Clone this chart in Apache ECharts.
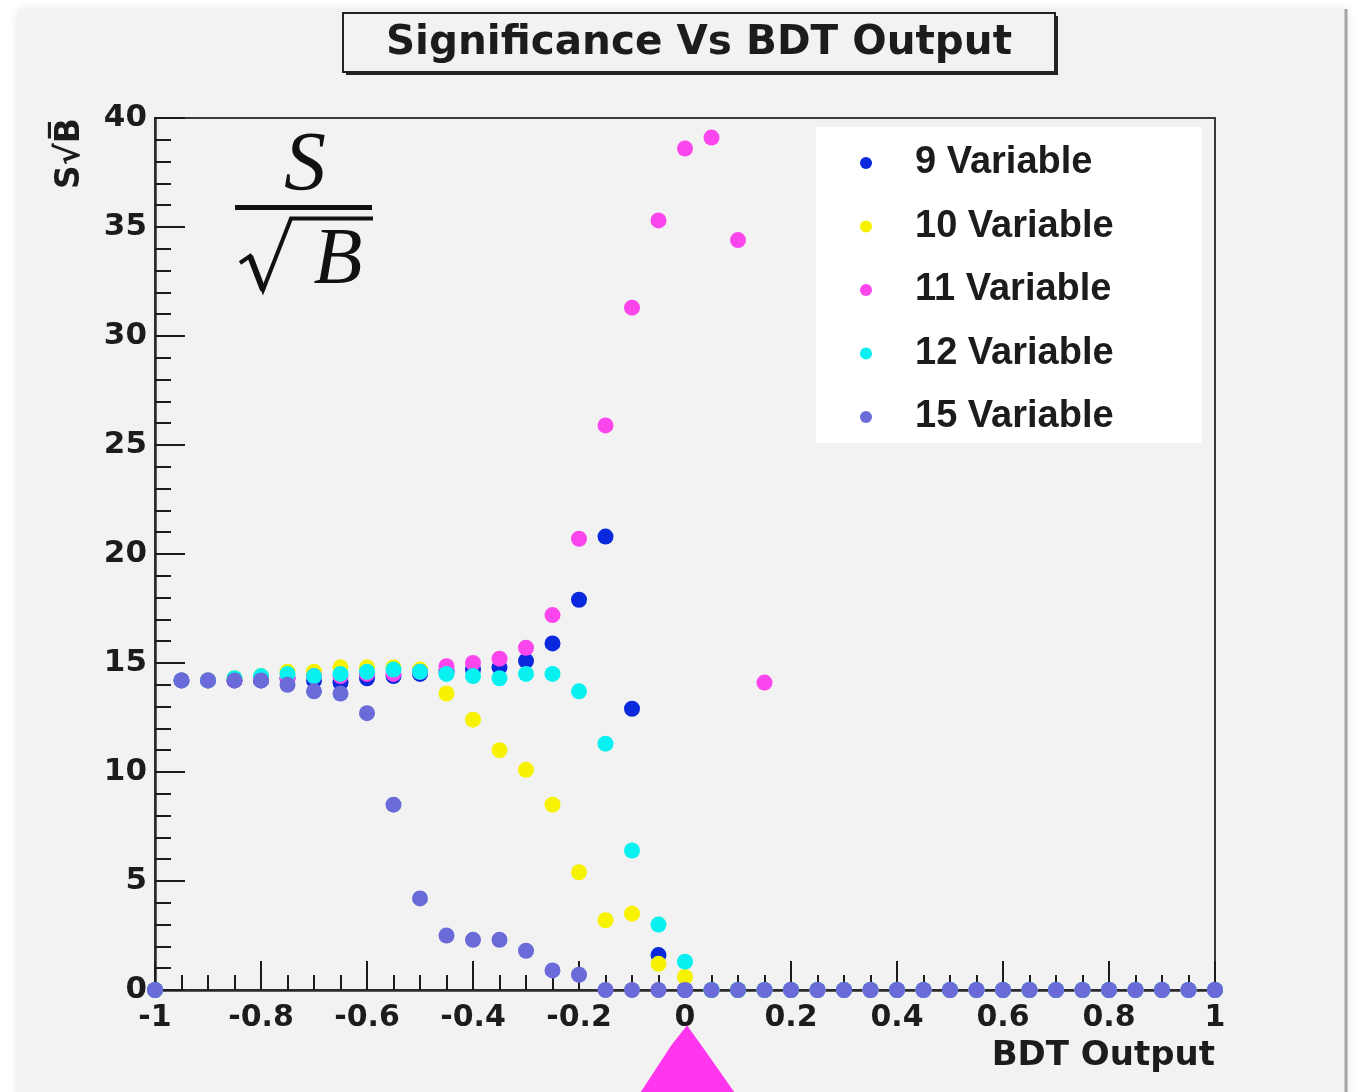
<!DOCTYPE html>
<html>
<head>
<meta charset="utf-8">
<title>Significance Vs BDT Output</title>
<script src="https://cdn.jsdelivr.net/npm/echarts@6/dist/echarts.min.js"></script>
<style>
  html, body { margin: 0; padding: 0; background: #ffffff; }
  #chart { width: 1359px; height: 1092px; }
</style>
</head>
<body>
<div id="chart"></div>
<script>
// BDT output cut values (x) and the S/sqrt(B) significance for each variable set
const bdtOutput = [
  -1, -0.95, -0.9, -0.85, -0.8, -0.75, -0.7, -0.65, -0.6, -0.55,
  -0.5, -0.45, -0.4, -0.35, -0.3, -0.25, -0.2, -0.15, -0.1, -0.05,
  0, 0.05, 0.1, 0.15, 0.2, 0.25, 0.3, 0.35, 0.4, 0.45,
  0.5, 0.55, 0.6, 0.65, 0.7, 0.75, 0.8, 0.85, 0.9, 0.95, 1
];

const var9 = [
  0, 14.2, 14.2, 14.2, 14.2, 14.3, 14.2, 14.1, 14.3, 14.4,
  14.5, 14.6, 14.7, 14.8, 15.1, 15.9, 17.9, 20.8, 12.9, 1.6,
  0, 0, 0, 0, 0, 0, 0, 0, 0, 0,
  0, 0, 0, 0, 0, 0, 0, 0, 0, 0, 0
];

const var10 = [
  0, 14.2, 14.2, 14.3, 14.4, 14.6, 14.6, 14.8, 14.8, 14.8,
  14.7, 13.6, 12.4, 11.0, 10.1, 8.5, 5.4, 3.2, 3.5, 1.2,
  0.6, 0, 0, 0, 0, 0, 0, 0, 0, 0,
  0, 0, 0, 0, 0, 0, 0, 0, 0, 0, 0
];

const var11 = [
  0, 14.2, 14.2, 14.2, 14.3, 14.3, 14.4, 14.4, 14.5, 14.5,
  14.6, 14.85, 15.0, 15.2, 15.7, 17.2, 20.7, 25.9, 31.3, 35.3,
  38.6, 39.1, 34.4, 14.1, 0, 0, 0, 0, 0, 0,
  0, 0, 0, 0, 0, 0, 0, 0, 0, 0, 0
];

const var12 = [
  0, 14.2, 14.2, 14.3, 14.4, 14.5, 14.4, 14.5, 14.6, 14.7,
  14.6, 14.5, 14.4, 14.3, 14.5, 14.5, 13.7, 11.3, 6.4, 3.0,
  1.3, 0, 0, 0, 0, 0, 0, 0, 0, 0,
  0, 0, 0, 0, 0, 0, 0, 0, 0, 0, 0
];

const var15 = [
  0, 14.2, 14.2, 14.2, 14.2, 14.0, 13.7, 13.6, 12.7, 8.5,
  4.2, 2.5, 2.3, 2.3, 1.8, 0.9, 0.7, 0, 0, 0,
  0, 0, 0, 0, 0, 0, 0, 0, 0, 0,
  0, 0, 0, 0, 0, 0, 0, 0, 0, 0, 0
];

const seriesNames = ['9 Variable', '10 Variable', '11 Variable', '12 Variable', '15 Variable'];
const seriesValues = [var9, var10, var11, var12, var15];
const seriesColors = ['#0a28dc', '#f6f200', '#fb46ee', '#08f0f0', '#6a6ad8'];

const yTicks = [0, 5, 10, 15, 20, 25, 30, 35, 40];
const xTicks = [-1, -0.8, -0.6, -0.4, -0.2, 0, 0.2, 0.4, 0.6, 0.8, 1];

const AXIS_FONT = '"DejaVu Sans", sans-serif';
const LEGEND_FONT = '"Liberation Sans", Arial, sans-serif';
const MATH_FONT = '"Liberation Serif", "DejaVu Serif", serif';
const INK = '#1c1c1c';

const chart = echarts.init(document.getElementById('chart'), null, { renderer: 'canvas' });

const series = seriesNames.map((name, k) => ({
  name: name,
  type: 'scatter',
  symbol: 'circle',
  symbolSize: 16,
  itemStyle: { color: seriesColors[k], opacity: 1 },
  emphasis: { disabled: true },
  data: bdtOutput.map((x, i) => [x, seriesValues[k][i]])
}));

chart.setOption({
  backgroundColor: '#ffffff',
  animation: false,
  grid: {
    left: 155, top: 118, width: 1060, height: 872,
    show: true, borderColor: '#3a3a3a', borderWidth: 2,
    backgroundColor: 'transparent'
  },
  legend: {
    orient: 'vertical',
    left: 816, top: 127,
    padding: [17, 88, 7, 44],
    backgroundColor: '#ffffff',
    itemWidth: 12, itemHeight: 12,
    itemGap: 25.5,
    icon: 'circle',
    selectedMode: false,
    data: seriesNames,
    textStyle: {
      fontFamily: LEGEND_FONT, fontWeight: 'bold', fontSize: 38,
      lineHeight: 38, color: INK, padding: [0, 0, 0, 38]
    }
  },
  xAxis: {
    type: 'value',
    min: xTicks[0], max: xTicks[xTicks.length - 1], interval: 0.2,
    splitLine: { show: false },
    axisLine: { show: true, onZero: false, lineStyle: { color: '#2a2a2a', width: 2.5 } },
    axisTick: { show: true, inside: true, length: 29, lineStyle: { color: INK, width: 2 } },
    minorTick: { show: true, splitNumber: 4, length: 15, lineStyle: { color: INK, width: 2 } },
    axisLabel: {
      margin: 13,
      fontFamily: AXIS_FONT, fontWeight: 'bold', fontSize: 30, color: INK,
      formatter: v => String(+v.toFixed(2))
    }
  },
  yAxis: {
    type: 'value',
    min: yTicks[0], max: yTicks[yTicks.length - 1], interval: 5,
    splitLine: { show: false },
    axisLine: { show: true, onZero: false, lineStyle: { color: '#2a2a2a', width: 2.5 } },
    axisTick: { show: true, inside: true, length: 30, lineStyle: { color: INK, width: 2 } },
    minorTick: { show: true, splitNumber: 5, length: 16, lineStyle: { color: INK, width: 2 } },
    axisLabel: {
      margin: 8,
      fontFamily: AXIS_FONT, fontWeight: 'bold', fontSize: 31, color: INK
    }
  },
  graphic: [
    // canvas panel behind everything
    {
      type: 'rect', z: -10, silent: true,
      shape: { x: 18, y: 10, width: 1328, height: 1100 },
      style: { fill: '#f2f2f2', shadowBlur: 10, shadowColor: 'rgba(0,0,0,0.12)' }
    },
    {
      type: 'line', z: -9, silent: true,
      shape: { x1: 1346, y1: 9, x2: 1346, y2: 1092 },
      style: { stroke: '#a3a3a3', lineWidth: 3 }
    },
    // title box with drop shadow
    {
      type: 'rect', z: 5, silent: true,
      shape: { x: 346, y: 16, width: 712, height: 59 },
      style: { fill: '#222222' }
    },
    {
      type: 'rect', z: 5, silent: true,
      shape: { x: 343, y: 13, width: 712, height: 59 },
      style: { fill: '#f2f2f2', stroke: '#222222', lineWidth: 2 }
    },
    {
      type: 'text', z: 6, silent: true,
      x: 699, y: 43,
      style: {
        text: 'Significance Vs BDT Output',
        font: 'bold 40.5px "DejaVu Sans", sans-serif',
        fill: INK, align: 'center', verticalAlign: 'middle'
      }
    },
    // axis titles
    {
      type: 'text', z: 6, silent: true,
      x: 1215, y: 1056,
      style: {
        text: 'BDT Output',
        font: 'bold 34px "DejaVu Sans", sans-serif',
        fill: INK, align: 'right', verticalAlign: 'middle'
      }
    },
    {
      type: 'text', z: 6, silent: true,
      x: 70, y: 118, rotation: Math.PI / 2,
      style: {
        text: 'S\u221AB\u0305',
        font: 'bold 33px "DejaVu Sans", sans-serif',
        fill: INK, align: 'right', verticalAlign: 'middle'
      }
    },
    // S over sqrt(B) formula annotation
    {
      type: 'text', z: 6, silent: true,
      x: 305, y: 168,
      style: {
        text: 'S',
        font: 'italic 84px ' + MATH_FONT,
        fill: '#111111', align: 'center', verticalAlign: 'middle'
      }
    },
    {
      type: 'rect', z: 6, silent: true,
      shape: { x: 235, y: 205, width: 137, height: 5 },
      style: { fill: '#111111' }
    },
    {
      type: 'polyline', z: 6, silent: true,
      shape: { points: [[240, 263], [250, 256], [263, 290], [291, 218.5], [373, 218.5]] },
      style: { stroke: '#111111', lineWidth: 4, fill: null, lineJoin: 'miter' }
    },
    {
      type: 'polyline', z: 6, silent: true,
      shape: { points: [[250, 256], [263, 290]] },
      style: { stroke: '#111111', lineWidth: 6, fill: null }
    },
    {
      type: 'text', z: 6, silent: true,
      x: 338, y: 262,
      style: {
        text: 'B',
        font: 'italic 80px ' + MATH_FONT,
        fill: '#111111', align: 'center', verticalAlign: 'middle'
      }
    },
    // arrow marking the chosen cut at BDT output 0
    {
      type: 'polygon', z: 6, silent: true,
      shape: { points: [[687, 1027], [700, 1045], [733, 1092], [642, 1092], [672, 1046]] },
      style: { fill: '#ff36ee', stroke: '#ff36ee', lineWidth: 2 }
    }
  ],
  series: series
});
</script>
</body>
</html>
